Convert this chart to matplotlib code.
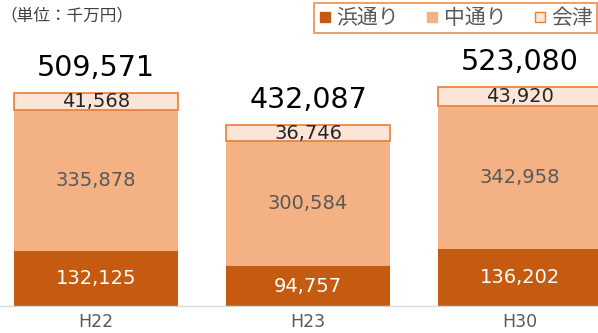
import matplotlib.pyplot as plt
from matplotlib.lines import Line2D

plt.rcParams['font.family'] = ['DejaVu Sans', 'Noto Sans CJK JP']

years = ['H22', 'H23', 'H30']
hama = [132125, 94757, 136202]
naka = [335878, 300584, 342958]
aizu = [41568, 36746, 43920]
totals = [509571, 432087, 523080]
series_names = ['浜通り', '中通り', '会津']

c_hama = '#C55A11'
c_naka = '#F4B183'
c_aizu = '#FBE5D6'
c_edge = '#ED7D31'

fig = plt.figure(figsize=(5.98, 3.33), dpi=100)
ax = fig.add_axes([0, 27 / 333, 1, 306 / 333])

x = list(range(len(years)))
w = 0.77
mid_bottom = hama
top_bottom = [a + b for a, b in zip(hama, naka)]

ax.bar(x, hama, w, color=c_hama, zorder=2)
ax.bar(x, naka, w, bottom=mid_bottom, color=c_naka, zorder=2)
ax.bar(x, aizu, w, bottom=top_bottom, color=c_aizu, edgecolor=c_edge,
       linewidth=1.2, zorder=3)

for i in x:
    ax.text(i, hama[i] / 2, f'{hama[i]:,}', ha='center', va='center',
            color='white', fontsize=14)
    ax.text(i, mid_bottom[i] + naka[i] / 2, f'{naka[i]:,}', ha='center',
            va='center', color='#595959', fontsize=14)
    ax.text(i, top_bottom[i] + aizu[i] / 2, f'{aizu[i]:,}', ha='center',
            va='center', color='#262626', fontsize=14, zorder=4)
    ax.annotate(f'{totals[i]:,}', (i, top_bottom[i] + aizu[i]),
                xytext=(0, 18), textcoords='offset points', ha='center',
                va='center', color='black', fontsize=20.5)

ax.set_xlim(-96 / 212, (598 - 96) / 212)
ax.set_ylim(0, 732000)
for s in ['top', 'right', 'left']:
    ax.spines[s].set_visible(False)
ax.spines['bottom'].set_color('#D9D9D9')
ax.spines['bottom'].set_linewidth(1)
ax.set_yticks([])
ax.set_xticks(x)
ax.set_xticklabels(years, color='#595959', fontsize=12.5)
ax.tick_params(axis='x', length=0, pad=5)

fig.text(0.0, 1 - 16 / 333, '（単位：千万円）', ha='left', va='center',
         fontsize=12, color='#404040', family=['Noto Sans CJK JP'])

handles = [
    Line2D([], [], marker='s', ls='', markersize=7.5, markerfacecolor=c_hama,
           markeredgecolor=c_hama),
    Line2D([], [], marker='s', ls='', markersize=7.5, markerfacecolor=c_naka,
           markeredgecolor=c_naka),
    Line2D([], [], marker='s', ls='', markersize=7, markerfacecolor=c_aizu,
           markeredgecolor=c_edge, markeredgewidth=1),
]
leg = fig.legend(handles, series_names, loc='upper right',
                 bbox_to_anchor=(597 / 598, 1 - 3 / 333), ncol=3,
                 frameon=True, fancybox=False, handlelength=0.6,
                 handletextpad=0.25, columnspacing=1.3, borderpad=0.2,
                 borderaxespad=0,
                 prop={'family': 'Noto Sans CJK JP', 'size': 15})
leg.get_frame().set_edgecolor(c_edge)
leg.get_frame().set_linewidth(1.3)
for t in leg.get_texts():
    t.set_color('#595959')

fig.savefig('out.png', dpi=100)
